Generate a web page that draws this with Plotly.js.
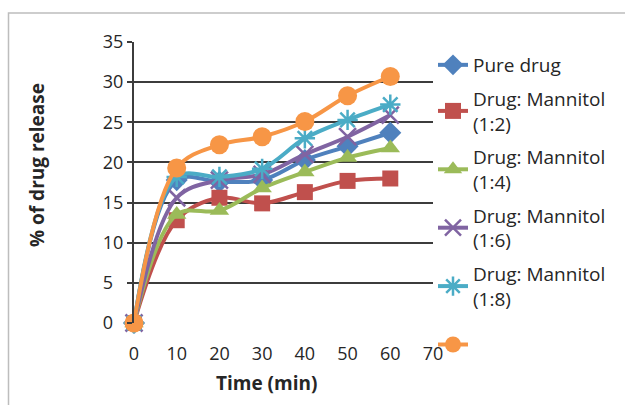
<!DOCTYPE html>
<html>
<head>
<meta charset="utf-8">
<script src="https://cdn.plot.ly/plotly-3.0.1.min.js"></script>
<style>
  html, body { margin: 0; padding: 0; background: #fff; }
  #chart { width: 625px; height: 405px; }
</style>
</head>
<body>
<div id="chart"></div>
<script>
// Dissolution time points (min)
const timeMin = [0, 10, 20, 30, 40, 50, 60];

// Cumulative % of drug released for each formulation
const pureDrug   = [0, 17.8, 17.6, 17.8, 20.3, 22.0, 23.7];
const mannitol12 = [0, 12.8, 15.6, 14.9, 16.3, 17.7, 18.0];
const mannitol14 = [0, 13.5, 14.0, 16.8, 18.8, 20.6, 21.8];
const mannitol16 = [0, 15.6, 17.8, 18.5, 21.0, 23.2, 25.9];
const mannitol18 = [0, 18.2, 18.2, 19.2, 23.0, 25.3, 27.2];
const unlabeled  = [0, 19.3, 22.2, 23.2, 25.1, 28.3, 30.7];

const seriesNames = [
  'Pure drug',
  'Drug: Mannitol<br>(1:2)',
  'Drug: Mannitol<br>(1:4)',
  'Drug: Mannitol<br>(1:6)',
  'Drug: Mannitol<br>(1:8)',
  ' <br> '
];
const xTicks = [0, 10, 20, 30, 40, 50, 60, 70];
const yTicks = [0, 5, 10, 15, 20, 25, 30, 35];
// y labels are left-aligned: single digits get a trailing figure space
const yTickText = ['0\u2007', '5\u2007', '10', '15', '20', '25', '30', '35'];

const FONT = 'Open Sans, sans-serif';
const TXT = '#262626';

function series(y, name, color, symbol, size, open, group) {
  return {
    x: timeMin, y: y, name: name, legendgroup: group,
    type: 'scatter', mode: 'lines+markers',
    line: { color: color, width: 4, shape: 'spline', smoothing: 1 },
    marker: open
      ? { symbol: symbol, size: size, color: color, line: { color: color, width: 2.5 } }
      : { symbol: symbol, size: size, color: color, line: { width: 0 } },
    cliponaxis: false
  };
}

const data = [
  series(pureDrug,   seriesNames[0], '#4F81BD', 'diamond', 17, false, 'g1'),
  series(mannitol12, seriesNames[1], '#C0504D', 'square', 16, false, 'g2'),
  series(mannitol14, seriesNames[2], '#9BBB59', 'triangle-up', 17, false, 'g3'),
  series(mannitol16, seriesNames[3], '#8064A2', 'x-thin-open', 17, true, 'g4'),
  series(mannitol18, seriesNames[4], '#4BACC6', 'asterisk-open', 17, true, 'g5'),
  series(unlabeled,  seriesNames[5], '#F79646', 'circle', 19, false, 'g6')
];

const layout = {
  width: 625, height: 405,
  margin: { l: 134, r: 192, t: 42, b: 82 },
  paper_bgcolor: '#fff', plot_bgcolor: '#fff',
  font: { family: FONT, color: TXT, size: 17 },
  showlegend: true,
  legend: {
    x: (433 - 134) / 299, y: (323 - 46) / 281, xanchor: 'left', yanchor: 'top',
    font: { family: FONT, size: 19, color: TXT },
    itemwidth: 30, tracegroupgap: 6, maxheight: 400,
    bgcolor: 'rgba(0,0,0,0)'
  },
  xaxis: {
    range: [0, 70], tickvals: xTicks, ticktext: xTicks.map(String),
    showgrid: false, zeroline: false, showline: false,
    ticks: '', ticklabelstandoff: 18,
    tickfont: { family: FONT, size: 18, color: TXT },
    fixedrange: true
  },
  yaxis: {
    range: [0, 35], tickvals: yTicks, ticktext: yTickText,
    showgrid: true, gridcolor: '#3c3c3c', gridwidth: 2,
    zeroline: false, showline: true, linecolor: '#3c3c3c', linewidth: 2,
    ticks: 'outside', ticklen: 5, tickcolor: '#3c3c3c', tickwidth: 2,
    tickfont: { family: FONT, size: 18, color: TXT },
    fixedrange: true
  },
  annotations: [
    { text: '<b>Time (min)</b>', xref: 'paper', yref: 'paper',
      x: (266 - 134) / 299, y: -(383 - 323) / 281,
      xanchor: 'center', yanchor: 'middle', showarrow: false,
      font: { family: FONT, size: 19, color: TXT } },
    { text: '<b>% of drug release</b>', xref: 'paper', yref: 'paper',
      x: (37 - 134) / 299, y: (323 - 165) / 281, textangle: -90,
      xanchor: 'center', yanchor: 'middle', showarrow: false,
      font: { family: FONT, size: 19, color: TXT } }
  ],
  shapes: [
    { type: 'rect', xref: 'paper', yref: 'paper', layer: 'below',
      x0: (8.5 - 134) / 299, x1: 2, y0: -1, y1: (323 - 13) / 281,
      line: { color: '#bdbdbd', width: 1.5 } }
  ]
};

Plotly.newPlot('chart', data, layout, { staticPlot: true, displayModeBar: false });
</script>
</body>
</html>
